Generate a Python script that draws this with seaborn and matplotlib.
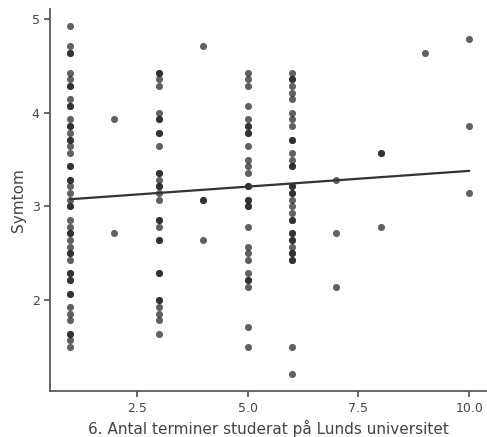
import numpy as np
import pandas as pd
import matplotlib
matplotlib.use("Agg")
import matplotlib.pyplot as plt
import seaborn as sns

# Symptom scores per number of semesters (values are k/14)
k_1 = [69, 66, 65, 65, 62, 61, 60, 60, 58, 57, 57, 55, 54, 54, 53, 52, 52, 51, 50, 48, 48,
       46, 46, 45, 44, 43, 42, 42, 40, 39, 38, 38, 37, 36, 35, 35, 34, 32, 32, 31, 31,
       29, 29, 27, 26, 25, 23, 23, 22, 21]
k_2 = [55, 38]
k_3 = [62, 62, 61, 60, 56, 55, 55, 53, 53, 51, 47, 47, 46, 45, 45, 44, 43,
       40, 40, 39, 37, 37, 32, 32, 28, 28, 27, 26, 25, 23]
k_4 = [66, 43, 43, 37]
k_5 = [62, 61, 60, 57, 55, 54, 54, 53, 53, 51, 49, 48, 47, 45, 45, 43, 43, 42, 42,
       39, 36, 35, 34, 32, 31, 31, 30, 24, 21]
k_6 = [62, 61, 61, 60, 59, 58, 56, 55, 54, 52, 52, 50, 49, 48, 48, 45, 45, 44, 44,
       43, 42, 41, 40, 40, 38, 38, 37, 37, 36, 35, 35, 34, 34, 21, 17]
k_7 = [46, 38, 30]
k_8 = [50, 50, 39]
k_9 = [65]
k_10 = [67, 54, 44]

groups = {1: k_1, 2: k_2, 3: k_3, 4: k_4, 5: k_5, 6: k_6, 7: k_7, 8: k_8, 9: k_9, 10: k_10}
xs, ys = [], []
for t, ks in groups.items():
    for k in ks:
        xs.append(t)
        ys.append(k / 14)
df = pd.DataFrame({"terminer": xs, "symtom": ys})

sns.set_theme(style="ticks")
plt.rcParams["font.family"] = ["DejaVu Sans"]

fig = plt.figure(figsize=(4.87, 4.37), dpi=100)
ax = fig.add_axes([0.103, 0.105, 0.897, 0.875])
sns.regplot(data=df, x="terminer", y="symtom", ci=None, ax=ax,
            scatter_kws=dict(s=26, color="#1e1e1e", alpha=0.7, linewidths=0),
            line_kws=dict(color="#333333", linewidth=1.6))
ax.set_xlim(0.55, 10.4)
ax.set_ylim(1.03, 5.11)
ax.set_xticks([2.5, 5.0, 7.5, 10.0])
ax.set_xticklabels(["2.5", "5.0", "7.5", "10.0"])
ax.set_yticks([2, 3, 4, 5])
ax.set_xlabel("6. Antal terminer studerat på Lunds universitet", fontsize=11, color="#444444")
ax.set_ylabel("Symtom", fontsize=11, color="#444444")
ax.tick_params(colors="#555555", labelsize=9, labelcolor="#444444", length=4)
for s in ["left", "bottom"]:
    ax.spines[s].set_color("#555555")
sns.despine(ax=ax)
fig.savefig("out.png", dpi=100)
